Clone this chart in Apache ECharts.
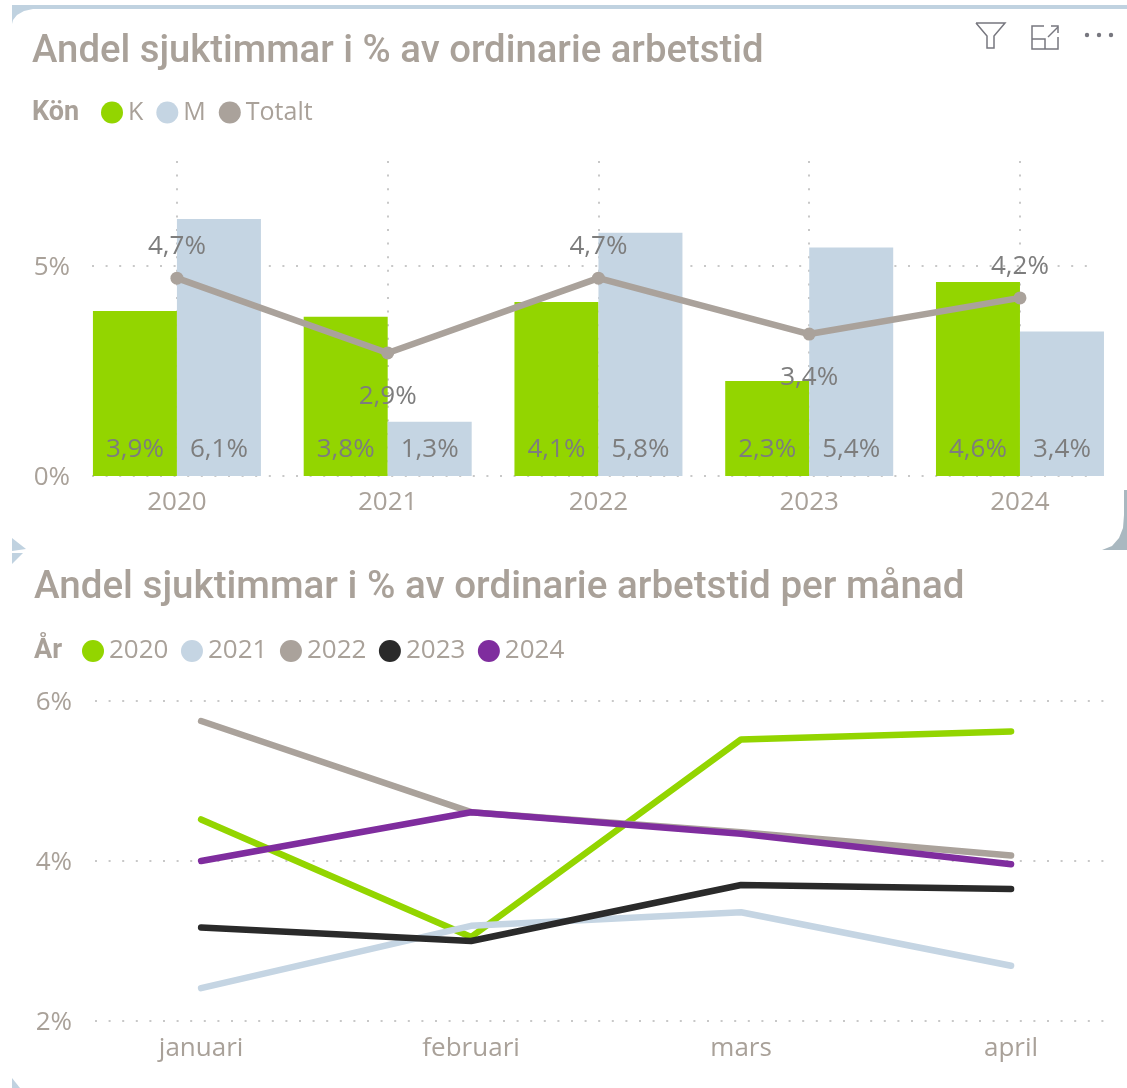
<!DOCTYPE html>
<html>
<head>
<meta charset="utf-8">
<title>Andel sjuktimmar</title>
<script src="https://cdn.jsdelivr.net/npm/echarts@6/dist/echarts.min.js"></script>
<style>
html, body { margin: 0; padding: 0; background: #fff; overflow: hidden; }
#chart { width: 1127px; height: 1088px; }
</style>
</head>
<body>
<div id="chart"></div>
<script>
// top chart
var years = ['2020', '2021', '2022', '2023', '2024'];
var womenValues = [3.93, 3.79, 4.14, 2.26, 4.62];
var menValues = [6.12, 1.29, 5.79, 5.44, 3.44];
var totalValues = [4.71, 2.93, 4.71, 3.38, 4.24];
var totalLabelPos = ['top', 'bottom', 'top', 'bottom', 'top'];

// bottom chart
var months = ['januari', 'februari', 'mars', 'april'];
var year2020 = [4.52, 3.05, 5.52, 5.62];
var year2021 = [2.41, 3.19, 3.36, 2.69];
var year2022 = [5.75, 4.61, 4.36, 4.07];
var year2023 = [3.17, 3.0, 3.7, 3.65];
var year2024 = [4.0, 4.61, 4.34, 3.96];

var topTicks = [0, 5];
var bottomTicks = [2, 4, 6];

var GREEN = '#93d500', BLUE = '#c5d5e3', GREY = '#aaa29b', BLACK = '#2a2a2a', PURPLE = '#7f2d9e';
var TXT = '#a9a199', LABEL = '#7d7d7d', DOT = '#c8c8c8';
var FONT = '"Open Sans", sans-serif', TITLE_FONT = 'Roboto, sans-serif';

function pairs(arr) {
    return arr.map(function (v, i) { return [i, v]; });
}
function pct(v) {
    return v.toFixed(1).replace('.', ',') + '%';
}
function indexes(arr) {
    return arr.map(function (v, i) { return i; });
}
function xAxis(idx, names, min, max, margin, showSplit) {
    return {
        gridIndex: idx, type: 'value', min: min, max: max,
        axisLine: { show: false },
        axisTick: { show: false, customValues: indexes(names) },
        axisLabel: {
            customValues: indexes(names), margin: margin, color: TXT, fontFamily: FONT, fontSize: 26,
            showMinLabel: true, showMaxLabel: true,
            formatter: function (v) { return names[v]; }
        },
        splitLine: { show: showSplit, lineStyle: { color: DOT, width: 2, type: [2, 11.6] } }
    };
}
function yAxis(idx, min, max, ticks, margin) {
    return {
        gridIndex: idx, type: 'value', min: min, max: max,
        axisLine: { show: false }, axisTick: { show: false, customValues: ticks },
        axisLabel: {
            customValues: ticks, margin: margin, formatter: '{v|{value}%}',
            rich: { v: { color: TXT, fontFamily: FONT, fontSize: 26, padding: [4, 0, 0, 0] } }
        },
        splitLine: { show: true, lineStyle: { color: DOT, width: 2, type: [2, 11.6] } }
    };
}
function barSeries(name, values, color) {
    return {
        name: name, type: 'bar', xAxisIndex: 0, yAxisIndex: 0, data: pairs(values),
        barWidth: 84, barGap: 0, clip: false, itemStyle: { color: color },
        label: {
            show: true, position: 'insideBottom', distance: 13, color: LABEL, fontFamily: FONT, fontSize: 26,
            formatter: function (p) { return pct(p.value[1]); }
        }
    };
}
function monthLine(name, values, color, z) {
    return {
        name: name, type: 'line', xAxisIndex: 1, yAxisIndex: 1, data: pairs(values), z: z,
        symbol: 'none', lineStyle: { color: color, width: 6.5, cap: 'round', join: 'round' }, itemStyle: { color: color }
    };
}
function legend(names, left, top, size, gap) {
    return {
        data: names, left: left, top: top, icon: 'circle', itemWidth: 22, itemHeight: 22, itemGap: gap,
        padding: 0, selectedMode: false, textStyle: { color: TXT, fontFamily: FONT, fontSize: size }
    };
}
function title(text, left, top, size, weight) {
    return {
        text: text, left: left, top: top, padding: 0,
        textStyle: { color: TXT, fontFamily: TITLE_FONT, fontSize: size, fontWeight: weight }
    };
}
function fillShape(points, fill) {
    return { type: 'polygon', shape: { points: points }, style: { fill: fill }, silent: true };
}
function stroke(points) {
    return { type: 'polyline', shape: { points: points }, style: { fill: 'none', stroke: '#77777f', lineWidth: 1.5 }, silent: true };
}
function dot(cx) {
    return { type: 'circle', shape: { cx: cx, cy: 35, r: 2.2 }, style: { fill: '#77777f' }, silent: true };
}

var option = {
    animation: false,
    textStyle: { fontFamily: FONT },
    title: [
        title('Andel sjuktimmar i % av ordinarie arbetstid', 32, 33, 38.3, 500),
        title('Kön', 32, 100, 27, 700),
        title('Andel sjuktimmar i % av ordinarie arbetstid per månad', 34, 569, 38.6, 500),
        title('År', 34, 638, 27, 700)
    ],
    legend: [
        legend(['K', 'M', 'Totalt'], 101, 100, 25, 13),
        legend(['2020', '2021', '2022', '2023', '2024'], 82, 638, 26, 12.5)
    ],
    grid: [
        { left: 92, top: 161, width: 1003, height: 315 },
        { left: 95, top: 701, width: 1013, height: 320 }
    ],
    xAxis: [
        xAxis(0, years, -0.403, 4.356, 14, true),
        xAxis(1, months, -0.393, 3.359, 15, false)
    ],
    yAxis: [
        yAxis(0, 0, 7.5, topTicks, 22),
        yAxis(1, 2, 6, bottomTicks, 23)
    ],
    graphic: [
        // panel edges
        fillShape([[12, 5], [1127, 5], [1127, 9], [33, 9], [24, 11], [17, 15], [13, 20], [12, 24]], '#c0d2e0'),
        fillShape([[1102, 550], [1112, 546], [1119, 538], [1123, 528], [1124, 515], [1124, 490], [1127, 490], [1127, 550]], '#a9b8c0'),
        fillShape([[12, 538], [26, 549], [12, 551]], '#c0d2e0'),
        fillShape([[12, 553], [23, 553], [12, 564]], '#c0d2e0'),
        fillShape([[12, 1078], [20, 1088], [12, 1088]], '#c0d2e0'),
        // visual header icons
        stroke([[976, 23], [1005, 23], [994, 36], [994, 48], [987, 48], [987, 36], [976, 23]]),
        stroke([[1044, 26], [1032, 26], [1032, 49], [1058, 49], [1058, 37]]),
        stroke([[1032, 39], [1045, 39], [1045, 49]]),
        stroke([[1048, 37], [1058, 27]]),
        stroke([[1051, 26], [1058, 26], [1058, 33]]),
        dot(1087), dot(1099), dot(1111)
    ],
    series: [
        barSeries('K', womenValues, GREEN),
        barSeries('M', menValues, BLUE),
        {
            name: 'Totalt', type: 'line', xAxisIndex: 0, yAxisIndex: 0, z: 5,
            data: totalValues.map(function (v, i) {
                var below = totalLabelPos[i] === 'bottom';
                return { value: [i, v], label: { position: totalLabelPos[i], distance: below ? 24 : 12 } };
            }),
            symbol: 'circle', symbolSize: 13,
            lineStyle: { color: GREY, width: 6.5, cap: 'round' }, itemStyle: { color: GREY },
            label: {
                show: true, color: LABEL, fontFamily: FONT, fontSize: 26,
                formatter: function (p) { return pct(p.value[1]); }
            }
        },
        monthLine('2020', year2020, GREEN, 2),
        monthLine('2021', year2021, BLUE, 3),
        monthLine('2022', year2022, GREY, 4),
        monthLine('2023', year2023, BLACK, 5),
        monthLine('2024', year2024, PURPLE, 6)
    ]
};

echarts.init(document.getElementById('chart')).setOption(option);
</script>
</body>
</html>
